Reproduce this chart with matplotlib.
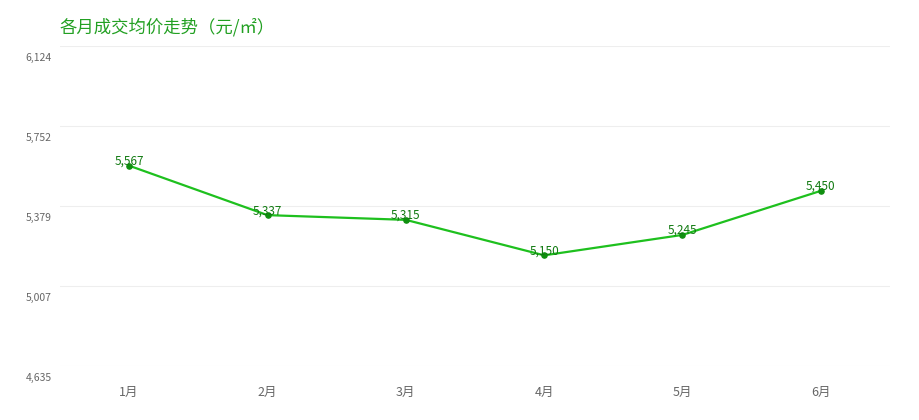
import matplotlib
matplotlib.use('Agg')
import matplotlib.pyplot as plt

plt.rcParams['font.family'] = ['Noto Sans CJK SC', 'DejaVu Sans']

months = ['1月', '2月', '3月', '4月', '5月', '6月']
prices = [5567, 5337, 5315, 5150, 5245, 5450]
y_ticks = [4635, 5007, 5379, 5752, 6124]
y_tick_labels = ['4,635', '5,007', '5,379', '5,752', '6,124']
title = '各月成交均价走势（元/㎡）'

fig = plt.figure(figsize=(9.2, 4.2), dpi=100)
ax = fig.add_axes([60 / 920, 54 / 420, 830 / 920, 320 / 420])

x = list(range(len(months)))
ax.plot(x, prices, color='#1ec01e', linewidth=1.6, zorder=3)
ax.scatter(x, prices, s=14, color='#0f8f0f', zorder=4)
for xi, v in zip(x, prices):
    ax.annotate(f'{v:,}', xy=(xi, v), xytext=(0, -1.5), textcoords='offset points',
                ha='center', va='bottom', fontsize=8.5, color='#117a11', zorder=5)

ax.set_xlim(-0.5, len(months) - 0.5)
ax.set_ylim(y_ticks[0], y_ticks[-1])
ax.set_yticks(y_ticks)
ax.set_yticklabels([])
ax.grid(axis='y', color='#eeeeee', linewidth=0.8)
ax.set_axisbelow(True)
for v, lab in zip(y_ticks, y_tick_labels):
    ax.annotate(lab, xy=(0, v), xycoords=('axes fraction', 'data'),
                xytext=(-8, -12), textcoords='offset pixels',
                ha='right', va='center', fontsize=7.5, color='#666666')

ax.set_xticks(x)
ax.set_xticklabels(months, fontsize=9, color='#666666')
ax.tick_params(axis='both', length=0)
ax.tick_params(axis='x', pad=14)
for s in ax.spines.values():
    s.set_visible(False)

fig.text(60 / 920, 1 - 27 / 420, title, fontsize=12.5, color='#22a022',
         ha='left', va='center')

fig.savefig('out.png', dpi=100, facecolor='white')
